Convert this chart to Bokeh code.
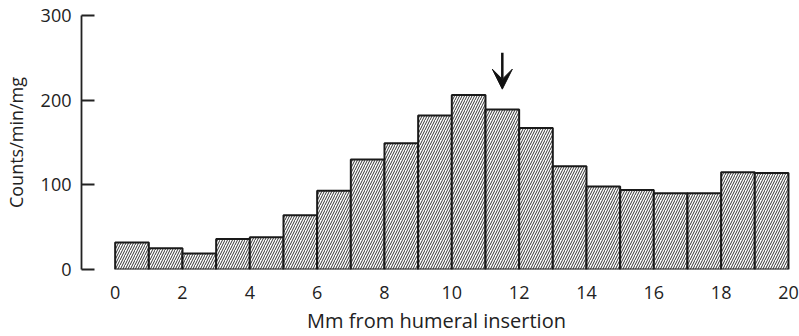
from bokeh.plotting import figure
from bokeh.models import FixedTicker, Arrow, VeeHead, Range1d, ColumnDataSource
from bokeh.embed import file_html
from bokeh.resources import INLINE

# Data
bin_left = list(range(0, 20))
bin_right = list(range(1, 21))
counts = [32, 25, 19, 36, 38, 64, 93, 130, 149, 182,
          206, 189, 167, 122, 98, 94, 90, 90, 115, 114]
x_ticks = [0, 2, 4, 6, 8, 10, 12, 14, 16, 18, 20]
y_ticks = [0, 100, 200, 300]
arrow_x = 11.5
arrow_y = [256, 213]
x_label = "Mm from humeral insertion"
y_label = "Counts/min/mg"

FONT = "Open Sans"
TXT = "#222222"

p = figure(width=799, height=336, output_backend="svg", toolbar_location=None,
           x_range=Range1d(-1.0, 20.09), y_range=Range1d(0, 300),
           min_border_left=79, min_border_right=8, min_border_top=15, min_border_bottom=67)
p.background_fill_color = "white"
p.border_fill_color = "white"
p.outline_line_color = None
p.grid.visible = False

src = ColumnDataSource(dict(left=bin_left, right=bin_right, top=counts, bottom=[0] * len(counts)))
p.quad(left="left", right="right", top="top", bottom="bottom", source=src,
       fill_color="white", line_color="#1a1a1a", line_width=2,
       hatch_pattern="/", hatch_color="#333333", hatch_scale=5, hatch_weight=1)

p.add_layout(Arrow(end=VeeHead(size=20, fill_color="#111111", line_color="#111111", line_width=1),
                   x_start=arrow_x, y_start=arrow_y[0], x_end=arrow_x, y_end=arrow_y[1],
                   line_width=2.5, line_color="#111111"))

# X axis
xa = p.xaxis[0]
xa.ticker = FixedTicker(ticks=x_ticks)
xa.axis_line_color = None
xa.major_tick_line_color = None
xa.minor_tick_line_color = None
xa.major_label_standoff = 10
xa.major_label_text_font = FONT
xa.major_label_text_font_size = "18px"
xa.major_label_text_color = TXT
xa.axis_label = x_label
xa.axis_label_text_font = FONT
xa.axis_label_text_font_size = "20px"
xa.axis_label_text_font_style = "normal"
xa.axis_label_text_color = TXT
xa.axis_label_standoff = 5

# Y axis
ya = p.yaxis[0]
ya.ticker = FixedTicker(ticks=y_ticks)
ya.axis_line_color = "#222222"
ya.axis_line_width = 1.8
ya.major_tick_line_color = "#222222"
ya.major_tick_line_width = 1.8
ya.major_tick_in = 13
ya.major_tick_out = 0
ya.minor_tick_line_color = None
ya.major_label_standoff = 10
ya.major_label_text_font = FONT
ya.major_label_text_font_size = "18px"
ya.major_label_text_color = TXT
ya.axis_label = y_label
ya.axis_label_text_font = FONT
ya.axis_label_text_font_size = "18px"
ya.axis_label_text_font_style = "normal"
ya.axis_label_text_color = TXT
ya.axis_label_standoff = 10

open("out.html", "w").write(file_html(p, INLINE))
